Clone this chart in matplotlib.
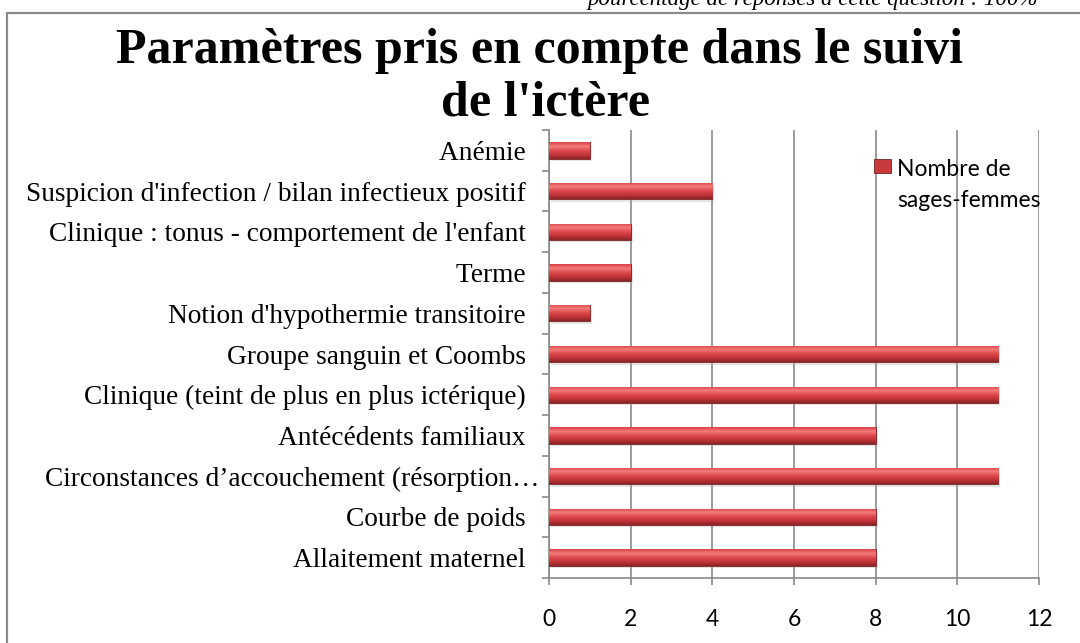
import numpy as np
import matplotlib
matplotlib.use("Agg")
import matplotlib.pyplot as plt
from matplotlib.patches import Rectangle
from matplotlib.colors import LinearSegmentedColormap
from matplotlib.legend_handler import HandlerPatch
from matplotlib.ticker import FuncFormatter

# --- Data (bottom to top, as drawn) ---
categories = [
    "Allaitement maternel",
    "Courbe de poids",
    "Circonstances d\u2019accouchement (r\u00e9sorption\u2026",
    "Ant\u00e9c\u00e9dents familiaux",
    "Clinique (teint de plus en plus ict\u00e9rique)",
    "Groupe sanguin et Coombs",
    "Notion d'hypothermie transitoire",
    "Terme",
    "Clinique : tonus - comportement de l'enfant",
    "Suspicion d'infection / bilan infectieux positif",
    "An\u00e9mie",
]
values = [8, 8, 11, 8, 11, 11, 1, 2, 2, 4, 1]
xticks = [0, 2, 4, 6, 8, 10, 12]
series_name = "Nombre de\nsages-femmes"

title_lines = ["Param\u00e8tres pris en compte dans le suivi", "de l'ict\u00e8re"]
above_text = "pourcentage de r\u00e9ponses \u00e0 cette question : 100%"

serif = ["Liberation Serif", "DejaVu Serif"]
sans = ["Lato", "DejaVu Sans"]
W, H = 1080, 643

fig = plt.figure(figsize=(10.8, 6.43), dpi=100)

# chart frame (runs off the right and bottom edges)
fig.patches.append(Rectangle((7 / W, -0.05), 1.2, 1 - 13 / H + 0.05,
                             transform=fig.transFigure, fill=False,
                             edgecolor="#8a8a8a", linewidth=1.6))
# cut off text from the page above the chart
fig.text(587 / W, 1 - 5 / H, above_text, ha="left", va="baseline",
         family=serif, style="italic", fontsize=16.5, color="black")

fig.text(0.5, 1 - 63 / H, title_lines[0], ha="center", va="baseline",
         family=serif, fontweight="bold", fontsize=36)
fig.text(0.505, 1 - 115 / H, title_lines[1], ha="center", va="baseline",
         family=serif, fontweight="bold", fontsize=36)

ax = fig.add_axes([549 / W, 1 - 578 / H, 490 / W, 448 / H])

y = np.arange(len(categories))
bh = 0.4
bars = ax.barh(y, values, height=bh, color="#C8393C", edgecolor="#7a2224",
               linewidth=0.6, zorder=3)

# shadow + gradient shading on each bar
cmap = LinearSegmentedColormap.from_list(
    "bar", ["#8a2527", "#c23438", "#e0494c", "#f37b7b", "#d84145"])
grad = np.linspace(0, 1, 64).reshape(-1, 1)
for b in bars:
    x0, y0 = b.get_x(), b.get_y()
    w, h = b.get_width(), b.get_height()
    ax.add_patch(Rectangle((x0 + 0.05, y0 - 0.06), w, h, facecolor="#b0b0b0",
                           alpha=0.35, linewidth=0, zorder=2))
    im = ax.imshow(grad, cmap=cmap, aspect="auto", origin="lower",
                   extent=(x0, x0 + w, y0, y0 + h), zorder=3.5)
    im.set_clip_path(b)

ax.set_xlim(0, 12)
ax.set_ylim(-0.5, len(categories) - 0.5)

ax.set_xticks(xticks)
ax.set_xticklabels([str(t) for t in xticks], family=sans, fontsize=16.5)
ax.set_yticks(y)


# full labels keep a small gap from the axis; the truncated one runs up to it
def ylabel_fmt(v, pos):
    lab = categories[int(round(v))]
    return lab if lab.endswith("\u2026") else lab + "\u2002"


ax.yaxis.set_major_formatter(FuncFormatter(ylabel_fmt))
ax.set_yticks(np.arange(-0.5, len(categories), 1), minor=True)

ax.tick_params(axis="x", direction="out", length=5, width=1.2,
               color="#8a8a8a", pad=17)
ax.tick_params(axis="y", which="major", length=0, pad=7,
               labelsize=19.7, labelfontfamily=serif)
ax.tick_params(axis="y", which="minor", direction="out", length=5,
               width=1.2, color="#8a8a8a")

ax.grid(axis="x", color="#8a8a8a", linewidth=1.2, zorder=1)
for s in ["top", "right"]:
    ax.spines[s].set_visible(False)
for s in ["left", "bottom"]:
    ax.spines[s].set_color("#8a8a8a")
    ax.spines[s].set_linewidth(1.2)


# legend marker sits next to the first line of the two-line label
def top_square(legend, orig_handle, xdescent, ydescent, width, height, fontsize):
    return Rectangle((-xdescent, -ydescent + 0.9 * fontsize), width, height * 0.85)


leg = ax.legend([bars[0]], [series_name], loc="upper left",
                bbox_to_anchor=(0.645, 0.955), frameon=False,
                prop={"family": sans, "size": 16.5}, handlelength=0.75,
                handleheight=0.7, handletextpad=0.25, borderaxespad=0,
                handler_map={type(bars[0]): HandlerPatch(patch_func=top_square)})
for t in leg.get_texts():
    t.set_linespacing(1.55)

fig.savefig("out.png", dpi=100)
